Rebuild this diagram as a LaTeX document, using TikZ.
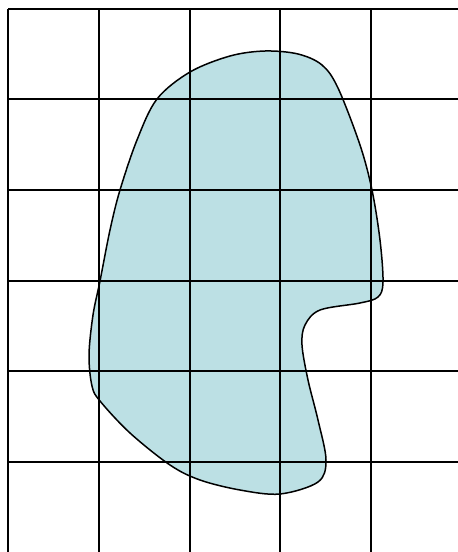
\documentclass[tikz,border=0pt]{standalone}
\definecolor{blobfill}{RGB}{188,224,228}
\tikzset{gridline/.style={line width=2pt, black},
  blob/.style={line width=1.5pt, black, fill=blobfill}}
\begin{document}
\begin{tikzpicture}[x=1pt,y=-1pt]
\useasboundingbox (0,0) rectangle (458,552);
\draw[blob] plot[smooth cycle, tension=0.55] coordinates {
(157,99) (190,72) (230,56) (265,51) (298,54) (322,65) (338,88) (360,145)
(372,190) (380,240) (383,282) (378,297) (360,303) (320,310) (305,325)
(302,345) (308,380) (318,420) (326,460) (318,482) (280,494) (240,490)
(200,480) (170,465) (130,433) (100,401) (92,386) (89,355) (93,315)
(100,281) (110,230) (120,190) (137,140)};
\foreach \x in {8,99,190,280,371} \draw[gridline] (\x,9) -- (\x,552);
\foreach \y in {9,99,190,281,371,462} \draw[gridline] (8,\y) -- (458,\y);
\end{tikzpicture}
\end{document}
